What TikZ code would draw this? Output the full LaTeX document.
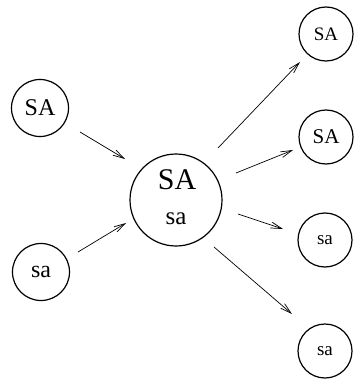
\documentclass[tikz,border=0pt]{standalone}
\usepackage{fontspec}
\setmainfont{Liberation Serif}
\usetikzlibrary{arrows.meta}
\begin{document}
\begin{tikzpicture}[x=1pt,y=-1pt,
  state/.style={circle,draw,line width=1.2pt,inner sep=0pt},
  small/.style={state,minimum size=54pt,font=\fontsize{19}{19}\selectfont},
  mid/.style={state,minimum size=57pt,font=\fontsize{24}{24}\selectfont},
  lbl/.style={inner sep=0pt},
  arr/.style={line width=0.7pt,-{Straight Barb[length=11pt,width=6pt,line width=0.7pt]}}]
\useasboundingbox (0,0) rectangle (357,385);
\node[mid] (l1) at (40,108) {SA};
\node[mid] (l2) at (41,272) {sa};
\node[state,minimum size=92pt] (c) at (176,200) {};
\node[lbl,font=\fontsize{30}{30}\selectfont] (cSA) at (177,180) {SA};
\node[lbl,font=\fontsize{25}{25}\selectfont] (csa) at (176,219) {sa};
\node[small] (r1) at (326,34) {SA};
\node[small,font=\fontsize{21}{21}\selectfont] (r2) at (326,137) {SA};
\node[small] (r3) at (325,240) {sa};
\node[small] (r4) at (325,351) {sa};
\coordinate (a1s) at (80,132); \coordinate (a1e) at (125,159);
\coordinate (a2s) at (78,252); \coordinate (a2e) at (126,223);
\coordinate (b1s) at (218,148); \coordinate (b1e) at (300,62);
\coordinate (b2s) at (236,173); \coordinate (b2e) at (293,150);
\coordinate (b3s) at (238,214); \coordinate (b3e) at (283,229);
\coordinate (b4s) at (214,247); \coordinate (b4e) at (292,314);
\draw[arr] (a1s) -- (a1e);
\draw[arr] (a2s) -- (a2e);
\draw[arr] (b1s) -- (b1e);
\draw[arr] (b2s) -- (b2e);
\draw[arr] (b3s) -- (b3e);
\draw[arr] (b4s) -- (b4e);
\end{tikzpicture}
\end{document}
